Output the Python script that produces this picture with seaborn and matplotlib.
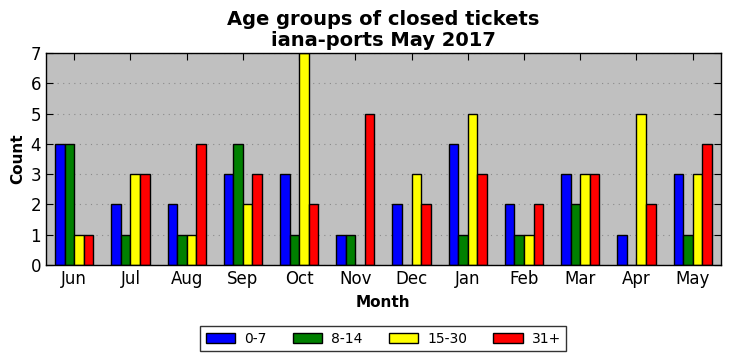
import matplotlib
matplotlib.use("Agg")
import matplotlib.pyplot as plt
import pandas as pd
import seaborn as sns

# monthly counts of closed tickets per age group
months = ['Jun', 'Jul', 'Aug', 'Sep', 'Oct', 'Nov', 'Dec', 'Jan', 'Feb', 'Mar', 'Apr', 'May']
groups = ['0-7', '8-14', '15-30', '31+']
age_0_7 = [4, 2, 2, 3, 3, 1, 2, 4, 2, 3, 1, 3]
age_8_14 = [4, 1, 1, 4, 1, 1, 0, 1, 1, 2, 0, 1]
age_15_30 = [1, 3, 1, 2, 7, 0, 3, 5, 1, 3, 5, 3]
age_31_plus = [1, 3, 4, 3, 2, 5, 2, 3, 2, 3, 2, 4]
colors = ['blue', 'green', 'yellow', 'red']

df = pd.DataFrame({'Month': months * 4,
                   'Group': [g for g in groups for _ in months],
                   'Count': age_0_7 + age_8_14 + age_15_30 + age_31_plus})

sns.set_style("ticks")
plt.rcParams.update({'text.color': 'black', 'axes.labelcolor': 'black',
                     'xtick.color': 'black', 'ytick.color': 'black'})
fig, ax = plt.subplots(figsize=(7.31, 3.61), dpi=100)
sns.barplot(data=df, x='Month', y='Count', hue='Group', order=months, hue_order=groups,
            palette=colors, width=0.68, edgecolor='black', linewidth=1, saturation=1,
            errorbar=None, ax=ax)

ax.set_facecolor('#c0c0c0')
ax.set_ylim(0, 7)
ax.set_xlim(-0.5, 11.5)
ax.set_yticks(range(8))
ax.yaxis.grid(True, linestyle=(0, (1, 4)), color='#8a8a8a', linewidth=0.8)
ax.set_axisbelow(True)
ax.tick_params(direction='in', top=True, right=True, labelsize=12, length=5)
for s in ax.spines.values():
    s.set_linewidth(1)
    s.set_color('black')

ax.set_title('Age groups of closed tickets\niana-ports May 2017', fontsize=14, fontweight='bold',
             linespacing=1.15, pad=5)
ax.set_xlabel('Month', fontsize=11, fontweight='bold', labelpad=5)
ax.set_ylabel('Count', fontsize=11, fontweight='bold')

ax.legend(loc='upper center', bbox_to_anchor=(0.5, -0.255), ncol=4, fontsize=10,
          frameon=True, fancybox=False, edgecolor='black', handlelength=2.1,
          handletextpad=0.65, columnspacing=1.9, borderpad=0.4)

fig.subplots_adjust(left=0.063, right=0.986, top=0.853, bottom=0.266)
fig.savefig('out.png', dpi=100)
